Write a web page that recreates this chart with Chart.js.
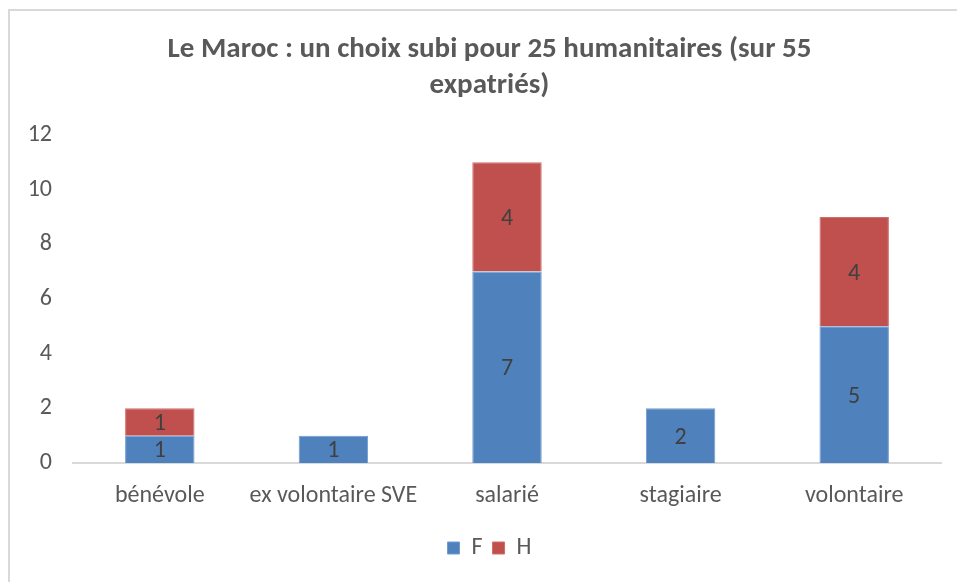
<!DOCTYPE html>
<html>
<head>
<meta charset="utf-8">
<script src="https://cdn.jsdelivr.net/npm/chart.js@4/dist/chart.umd.min.js"></script>
<style>
  html, body { margin: 0; padding: 0; background: #fff; }
  #wrap { position: absolute; left: 0; top: 0; width: 957px; height: 582px; }
  #frame { position: absolute; left: 8px; top: 9px; width: 980px; height: 600px; border: 2px solid #d9d9d9; box-sizing: border-box; }
  canvas { position: absolute; left: 0; top: 0; }
</style>
</head>
<body>
<div id="wrap">
  <div id="frame"></div>
  <canvas id="c" width="957" height="582"></canvas>
</div>
<script>
const titleLines = ["Le Maroc : un choix subi pour 25 humanitaires (sur 55", "expatriés)"];
const categories = ["bénévole", "ex volontaire SVE", "salarié", "stagiaire", "volontaire"];
const valuesF = [1, 1, 7, 2, 5];
const valuesH = [1, null, 4, null, 4];
const yTicks = [0, 2, 4, 6, 8, 10, 12];

const FONT = "Carlito, 'Liberation Sans Narrow', 'Open Sans', sans-serif";
const TXT = "#595959";

const valueLabels = {
  id: 'valueLabels',
  afterDatasetsDraw(chart) {
    const ctx = chart.ctx;
    ctx.save();
    ctx.font = "24px " + FONT;
    ctx.fillStyle = "#404040";
    ctx.textAlign = "center";
    ctx.textBaseline = "middle";
    chart.data.datasets.forEach((ds, i) => {
      const meta = chart.getDatasetMeta(i);
      meta.data.forEach((bar, j) => {
        const v = ds.data[j];
        if (v === null || v === undefined) return;
        const mid = (bar.y + bar.base) / 2;
        ctx.fillText(String(v), bar.x, mid + 2);
      });
    });
    ctx.restore();
  }
};

new Chart(document.getElementById('c'), {
  type: 'bar',
  data: {
    labels: categories,
    datasets: [
      { label: 'F', data: valuesF, backgroundColor: '#4F81BD', borderColor: '#6f9bd0', borderWidth: 1, categoryPercentage: 1, barPercentage: 0.4 },
      { label: 'H', data: valuesH, backgroundColor: '#C0504D', borderColor: '#d06e6b', borderWidth: 1, categoryPercentage: 1, barPercentage: 0.4 }
    ]
  },
  options: {
    responsive: false,
    animation: false,
    devicePixelRatio: 1,
    layout: { padding: { left: 38, right: 16, top: 32, bottom: 12 } },
    plugins: {
      title: {
        display: true,
        text: titleLines,
        color: TXT,
        font: { family: FONT, size: 29, weight: 'bold', lineHeight: 1.24 },
        padding: { top: 0, bottom: 31 }
      },
      legend: {
        position: 'bottom',
        labels: {
          color: TXT,
          font: { family: FONT, size: 24 },
          boxWidth: 12,
          boxHeight: 12,
          padding: 10
        }
      },
      tooltip: { enabled: false }
    },
    scales: {
      x: {
        stacked: true,
        afterFit(scale) { scale.height = 63; },
        grid: { display: false, drawTicks: false },
        border: { display: true, color: '#d9d9d9', width: 2 },
        ticks: { color: TXT, font: { family: FONT, size: 24 }, padding: 19 }
      },
      y: {
        stacked: true,
        min: 0,
        max: 12,
        afterBuildTicks(scale) { scale.ticks = yTicks.map(v => ({ value: v })); },
        afterFit(scale) {
          scale.width = 35;
          scale._computeLabelArea = function () { return undefined; };
        },
        grid: { display: false, drawTicks: false },
        border: { display: false },
        ticks: { color: TXT, font: { family: FONT, size: 24 }, padding: 21 }
      }
    }
  },
  plugins: [valueLabels]
});
</script>
</body>
</html>
